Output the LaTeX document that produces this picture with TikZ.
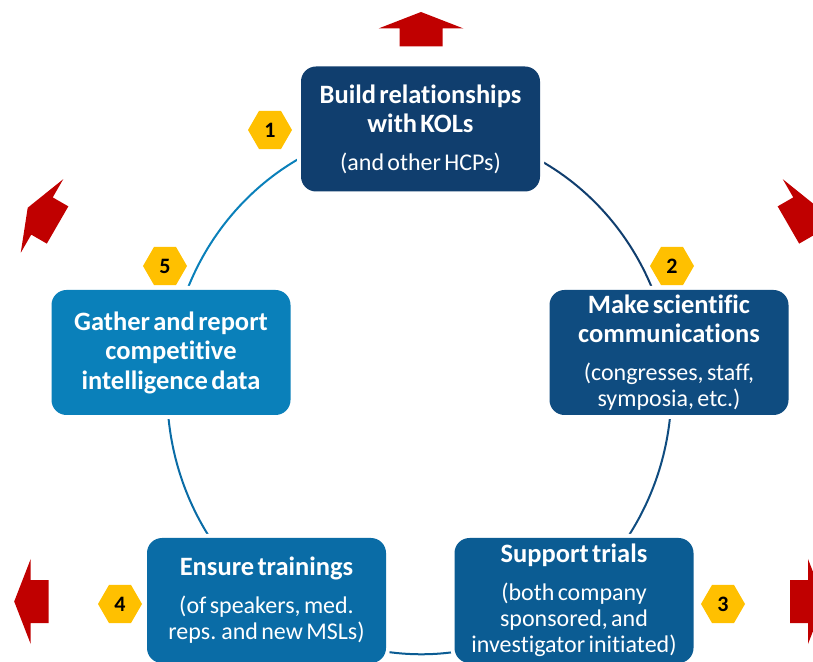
\documentclass[tikz,border=0pt]{standalone}
\usepackage{fontspec}
\setmainfont{Carlito}[Ligatures=NoCommon]
\usetikzlibrary{shapes.geometric,backgrounds}
\definecolor{Midnight}{HTML}{103E6E}
\definecolor{Marine}{HTML}{0F4C80}
\definecolor{Ocean}{HTML}{0B5C93}
\definecolor{Cerulean}{HTML}{0A6CA6}
\definecolor{Azure}{HTML}{0A80BA}
\definecolor{Amber}{HTML}{FFC000}
\definecolor{Crimson}{HTML}{C00000}
\newcommand\boxtitle[1]{{\bfseries\fontsize{26.5}{29.5}\selectfont #1\par}}
\newcommand\boxnote[1]{{\vspace{11pt}\fontsize{24}{26.4}\selectfont #1\par}}

\begin{document}
\begin{tikzpicture}[x=1pt,y=1pt,
    stage/.style={rounded corners=15pt,minimum width=239pt,minimum height=125pt,
      text width=232pt,align=center,text=white,inner sep=0pt,
      preaction={draw=white,line width=8pt}},
    badge/.style={regular polygon,regular polygon sides=6,minimum size=44pt,
      inner sep=0pt,fill=Amber,font=\bfseries\fontsize{22}{24}\selectfont},
    ring/.style={line width=2pt},
    outarrow/.pic={\fill[Crimson] (-18,-21.5) -- (0,-21.5) -- (0,-42.5) -- (16.5,0)
      -- (0,42.5) -- (0,21.5) -- (-18,21.5) -- cycle;}]
    \useasboundingbox (0,0) rectangle (813,661);

    % the five stages
    \node[stage,fill=Midnight] (b1) at (420.5,532) {\boxtitle{Build relationships\\ with KOLs}\boxnote{(and other HCPs)}};
    \node[stage,fill=Marine] (b2) at (669,308.5) {\boxtitle{Make scientific\\ communications}\boxnote{(congresses, staff,\\ symposia, etc.)}};
    \node[stage,fill=Ocean] (b3) at (574,60.5) {\boxtitle{Support trials}\boxnote{(both company\\ sponsored, and\\ investigator initiated)}};
    \node[stage,fill=Cerulean] (b4) at (266.5,60.5) {\boxtitle{Ensure trainings}\boxnote{(of speakers, med.\\ reps. and new MSLs)}};
    \node[stage,fill=Azure] (b5) at (171,308.5) {\boxtitle{Gather and report\\ competitive\\ intelligence data}};

    % ring behind the stages
    \begin{scope}[on background layer]
      \draw[ring,Midnight] (b1.center) arc[start angle=90,end angle=8,x radius=252pt,y radius=263pt];
      \draw[ring,Marine] (b2.center) arc[start angle=8,end angle=-52.7,x radius=252pt,y radius=263pt];
      \draw[ring,Ocean] (b3.center) arc[start angle=-52.7,end angle=-127.3,x radius=252pt,y radius=263pt];
      \draw[ring,Cerulean] (b4.center) arc[start angle=232.7,end angle=172,x radius=252pt,y radius=263pt];
      \draw[ring,Azure] (b5.center) arc[start angle=172,end angle=90,x radius=252pt,y radius=263pt];
    \end{scope}

    % step numbers
    \node[badge] (n1) at (270,531) {1};
    \node[badge] (n2) at (672,395) {2};
    \node[badge] (n3) at (723,57) {3};
    \node[badge] (n4) at (120,57) {4};
    \node[badge] (n5) at (165,395) {5};

    % outward arrows
    \pic[rotate=90] at (421,632.5) {outarrow};
    \pic[rotate=150] at (42,445) {outarrow};
    \pic[rotate=30] at (804,445) {outarrow};
    \pic[rotate=180] at (30.7,59.5) {outarrow};
    \pic at (808,59.5) {outarrow};
  \end{tikzpicture}
\end{document}
